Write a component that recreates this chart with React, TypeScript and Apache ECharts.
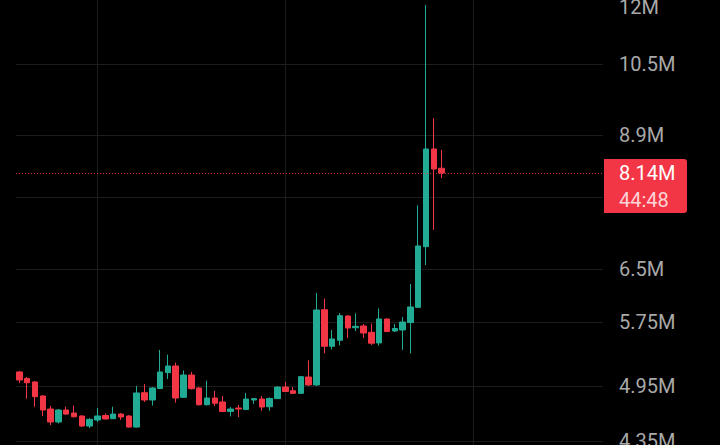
import React, { useEffect, useRef } from 'react';
import * as echarts from 'echarts';

// OHLC values in millions, one entry per candle (left to right)
const opens = [5.115, 5.038, 4.997, 4.836, 4.691, 4.551, 4.680, 4.647, 4.615, 4.508, 4.572, 4.620, 4.586, 4.636, 4.615, 4.497, 4.873, 4.791, 4.921, 5.107, 5.187, 4.821, 5.079, 4.927, 4.738, 4.813, 4.769, 4.664, 4.702, 4.685, 4.791, 4.802, 4.716, 4.806, 4.938, 4.896, 4.866, 5.055, 4.962, 5.916, 5.431, 5.508, 5.829, 5.672, 5.695, 5.612, 5.474, 5.789, 5.629, 5.642, 5.741, 5.949, 6.855, 8.612, 8.233];
const closes = [5.020, 4.988, 4.828, 4.680, 4.551, 4.680, 4.636, 4.607, 4.508, 4.579, 4.615, 4.583, 4.636, 4.604, 4.497, 4.870, 4.791, 4.927, 5.115, 5.187, 4.813, 5.079, 4.919, 4.738, 4.813, 4.754, 4.664, 4.691, 4.691, 4.802, 4.806, 4.713, 4.808, 4.938, 4.887, 4.866, 5.059, 4.962, 5.912, 5.431, 5.525, 5.833, 5.668, 5.691, 5.602, 5.470, 5.789, 5.622, 5.662, 5.748, 5.954, 6.866, 8.612, 8.219, 8.14];
const lows = [4.985, 4.806, 4.716, 4.615, 4.519, 4.535, 4.625, 4.599, 4.497, 4.487, 4.551, 4.577, 4.583, 4.572, 4.492, 4.492, 4.769, 4.729, 4.915, 5.032, 4.761, 4.813, 4.910, 4.729, 4.729, 4.724, 4.658, 4.610, 4.604, 4.680, 4.746, 4.672, 4.672, 4.802, 4.881, 4.858, 4.858, 4.950, 4.950, 5.341, 5.391, 5.442, 5.538, 5.629, 5.538, 5.448, 5.439, 5.615, 5.615, 5.385, 5.341, 5.940, 6.566, 7.127, 8.047];
const highs = [5.127, 5.055, 5.008, 4.847, 4.724, 4.691, 4.718, 4.729, 4.625, 4.593, 4.702, 4.642, 4.716, 4.647, 4.625, 4.950, 4.973, 4.938, 5.385, 5.326, 5.229, 5.133, 5.115, 4.938, 5.012, 4.893, 4.836, 4.713, 4.735, 4.870, 4.813, 4.836, 4.819, 4.944, 4.997, 4.938, 5.067, 5.256, 6.152, 6.073, 5.642, 5.870, 5.843, 5.866, 5.722, 5.728, 5.933, 5.795, 5.722, 5.816, 6.282, 7.550, 12.056, 9.253, 8.592];

// axis ticks (millions)
const yGridValues = [4.35, 4.95, 5.75, 6.5, 7.7, 8.9, 10.5];
const yLabelValues = [4.35, 4.95, 5.75, 6.5, 8.9, 10.5, 12];
const xGridValues = [10, 34, 58];

const lastPrice = 8.14;
const countdown = '44:48';

const UP = '#22ab94';
const DOWN = '#f23645';

export default function App() {
  const ref = useRef<HTMLDivElement>(null);
  useEffect(() => {
    document.body.style.margin = '0';
    document.body.style.background = '#000';
    const chart = echarts.init(ref.current as HTMLDivElement, null, { renderer: 'svg' });
    const data = opens.map((o, i) => [i, o, closes[i], lows[i], highs[i]]);
    chart.setOption({
      animation: false,
      backgroundColor: '#000000',
      textStyle: { fontFamily: 'Roboto' },
      grid: { left: 16, right: 117, top: 0, bottom: 0, containLabel: false, outerBoundsMode: 'none' },
      xAxis: {
        type: 'value',
        min: -0.42,
        max: 74.62,
        axisLine: { show: false },
        axisTick: { show: false, customValues: xGridValues },
        axisLabel: { show: false },
        splitLine: { show: true, lineStyle: { color: '#1c1c1c', width: 1 } },
      },
      yAxis: {
        type: 'log',
        position: 'right',
        min: 4.3126,
        max: 12.198,
        axisLine: { show: false },
        axisTick: { show: false, customValues: yGridValues },
        axisLabel: {
          customValues: yLabelValues,
          formatter: (v: number) => `${+Number(v).toFixed(2)}M`,
          color: '#a9a9a9',
          fontSize: 20,
          fontFamily: 'Roboto',
          margin: 16,
        },
        splitLine: { show: true, lineStyle: { color: '#1c1c1c', width: 1 } },
      },
      series: [
        {
          type: 'candlestick',
          data,
          encode: { x: 0, y: [1, 2, 3, 4] },
          barWidth: 6,
          itemStyle: {
            color: UP,
            color0: DOWN,
            borderColor: UP,
            borderColor0: DOWN,
            borderWidth: 1,
          },
          markLine: {
            silent: true,
            symbol: ['none', 'none'],
            data: [{ yAxis: lastPrice }],
            lineStyle: { color: 'rgba(242,54,69,0.85)', type: [1, 2], width: 1, opacity: 1 },
            label: {
              show: true,
              position: 'end',
              distance: 1,
              fontFamily: 'Roboto',
              formatter: `{t| }\n{a|${lastPrice}M}\n{b|${countdown}}`,
              rich: {
                t: { height: 26, lineHeight: 26, fontSize: 1, color: 'transparent' },
                a: {
                  fontSize: 20,
                  fontFamily: 'Roboto',
                  color: '#ffffff',
                  backgroundColor: DOWN,
                  width: 56,
                  height: 28,
                  lineHeight: 28,
                  padding: [0, 12, 0, 15],
                  borderRadius: [0, 3, 0, 0],
                },
                b: {
                  fontSize: 20,
                  fontFamily: 'Roboto',
                  color: 'rgba(255,255,255,0.8)',
                  backgroundColor: DOWN,
                  width: 56,
                  height: 26,
                  lineHeight: 26,
                  padding: [0, 12, 0, 15],
                  borderRadius: [0, 0, 3, 0],
                },
              },
            },
          },
        },
      ],
    });
    return () => chart.dispose();
  }, []);
  return (
    <div
      ref={ref}
      style={{ position: 'fixed', left: 0, top: 0, width: 720, height: 445, background: '#000' }}
    />
  );
}
